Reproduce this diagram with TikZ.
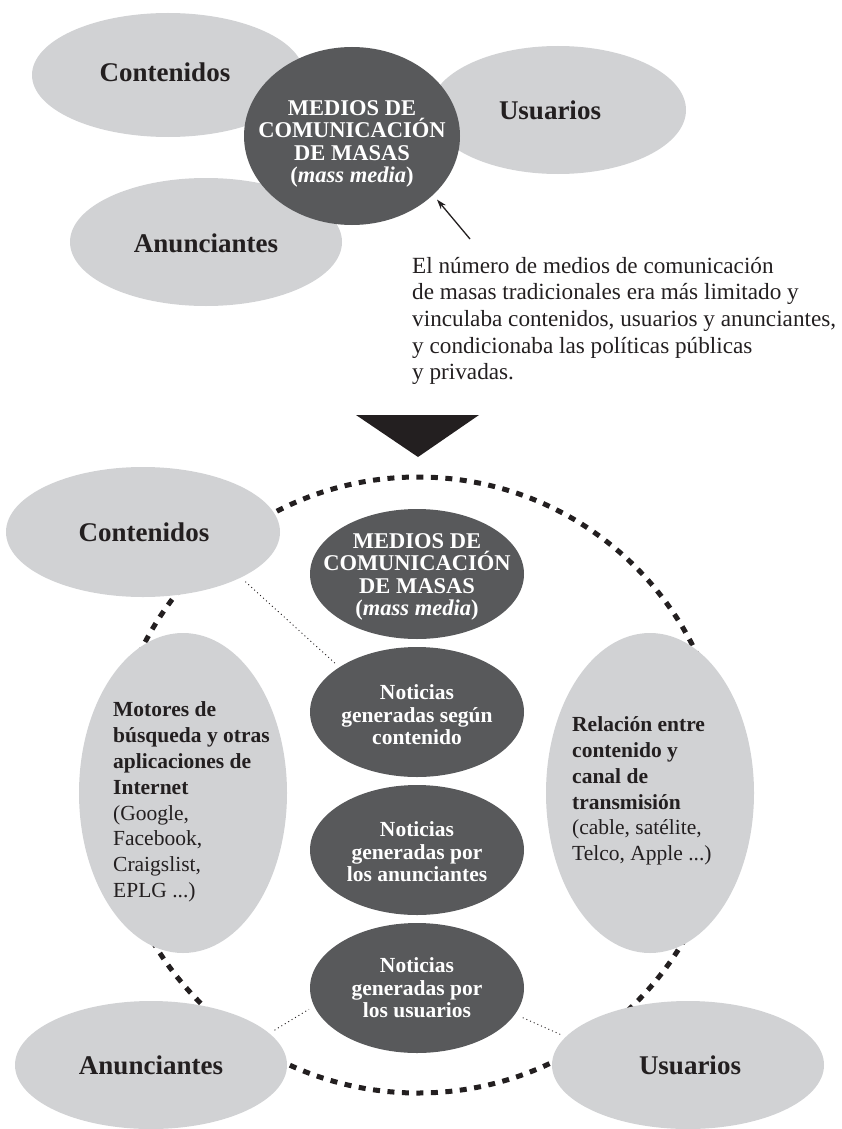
\documentclass[tikz,border=0pt]{standalone}
\usepackage{fontspec}
\setmainfont{Liberation Serif}
\usetikzlibrary{shapes.geometric,arrows.meta}
\definecolor{lightg}{RGB}{209,210,212}
\definecolor{darkg}{RGB}{88,89,91}
\definecolor{ink}{RGB}{35,31,32}
\tikzset{
  lightell/.style={ellipse, fill=lightg, draw=none, inner sep=0pt},
  darkell/.style={ellipse, fill=darkg, draw=none, inner sep=0pt},
  biglab/.style={font=\fontsize{27}{30}\selectfont\bfseries, text=ink, inner sep=0pt},
  darklab/.style={font=\fontsize{21.5}{22.5}\selectfont\bfseries, text=white, align=center, inner sep=0pt},
  medlab/.style={font=\fontsize{22.5}{22.5}\selectfont\bfseries, text=white, align=center, inner sep=0pt},
  sidelab/.style={font=\fontsize{21.5}{25.8}\selectfont, text=ink, align=left, inner sep=0pt, anchor=west},
  paralab/.style={font=\fontsize{23.2}{26.7}\selectfont, text=ink, align=left, inner sep=0pt, anchor=west},
  dashcircle/.style={line width=5pt, dash pattern=on 7pt off 7.5pt, draw=ink},
  dotline/.style={line width=0.9pt, dash pattern=on 1pt off 3pt, draw=ink, shorten <=6pt, shorten >=6pt},
  arrowline/.style={line width=1.3pt, draw=ink, -{Stealth[length=10pt,width=6.5pt]}},
}
\begin{document}
\begin{tikzpicture}[x=1pt,y=-1pt]
\useasboundingbox (0,0) rectangle (841,1129);

% ---------- top part ----------
\node[lightell, minimum width=272pt, minimum height=124pt] (c1) at (168,75) {};
\node[lightell, minimum width=256pt, minimum height=128pt] (u1) at (558,110) {};
\node[lightell, minimum width=272pt, minimum height=128pt] (a1) at (206,242) {};
\node[darkell, minimum width=216pt, minimum height=178pt] (m1) at (352,136) {};

\node[biglab] (c1t) at (165,72) {Contenidos};
\node[biglab] (u1t) at (550,110) {Usuarios};
\node[biglab] (a1t) at (206,243) {Anunciantes};
\node[medlab] (m1t) at (352,144) {MEDIOS DE\\COMUNICACIÓN\\DE MASAS\\(\textit{mass media})};

\coordinate (arrtail) at (470,239);
\draw[arrowline, shorten >=6pt] (arrtail) -- (m1.-36);

\node[paralab] (para) at (412,321) {El número de medios de comunicación\\de masas tradicionales era más limitado y\\vinculaba contenidos, usuarios y anunciantes,\\y condicionaba las políticas públicas\\y privadas.};

% ---------- triangle ----------
\fill[ink] (356,415) -- (479,415) -- (418,457) -- cycle;

% ---------- bottom part ----------
\coordinate (cc) at (418,785);
\draw[dashcircle] (cc) circle [radius=308pt];

\node[lightell, minimum width=274pt, minimum height=130pt] (c2) at (143,532) {};
\node[lightell, minimum width=208pt, minimum height=320pt] (mot) at (183,793) {};
\node[lightell, minimum width=208pt, minimum height=320pt] (rel) at (650,793) {};
\node[lightell, minimum width=272pt, minimum height=128pt] (a2) at (151,1065) {};
\node[lightell, minimum width=272pt, minimum height=128pt] (u2) at (688,1065) {};

\node[darkell, minimum width=214pt, minimum height=130pt] (m2) at (417,574) {};
\node[darkell, minimum width=214pt, minimum height=130pt] (n1) at (417,712) {};
\node[darkell, minimum width=214pt, minimum height=130pt] (n2) at (417,850) {};
\node[darkell, minimum width=214pt, minimum height=130pt] (n3) at (417,988) {};

\draw[dotline] (c2.-25) -- (n1.150);
\draw[dotline] (a2.15) -- (n3.190);
\draw[dotline] (u2.167) -- (n3.-15);

\node[biglab] (c2t) at (144,532) {Contenidos};
\node[biglab] (a2t) at (151,1065) {Anunciantes};
\node[biglab] (u2t) at (690,1065) {Usuarios};

\node[medlab] (m2t) at (417,577) {MEDIOS DE\\COMUNICACIÓN\\DE MASAS\\(\textit{mass media})};
\node[darklab] (n1t) at (417,715) {Noticias\\generadas según\\contenido};
\node[darklab] (n2t) at (417,852) {Noticias\\generadas por\\los anunciantes};
\node[darklab] (n3t) at (417,988) {Noticias\\generadas por\\los usuarios};

\node[sidelab] (mott) at (113,802) {\textbf{Motores de}\\\textbf{búsqueda y otras}\\\textbf{aplicaciones de}\\\textbf{Internet}\\(Google,\\Facebook,\\Craigslist,\\EPLG ...)};
\node[sidelab] (relt) at (572,791) {\textbf{Relación entre}\\\textbf{contenido y}\\\textbf{canal de}\\\textbf{transmisión}\\(cable, satélite,\\Telco, Apple ...)};
\end{tikzpicture}
\end{document}
